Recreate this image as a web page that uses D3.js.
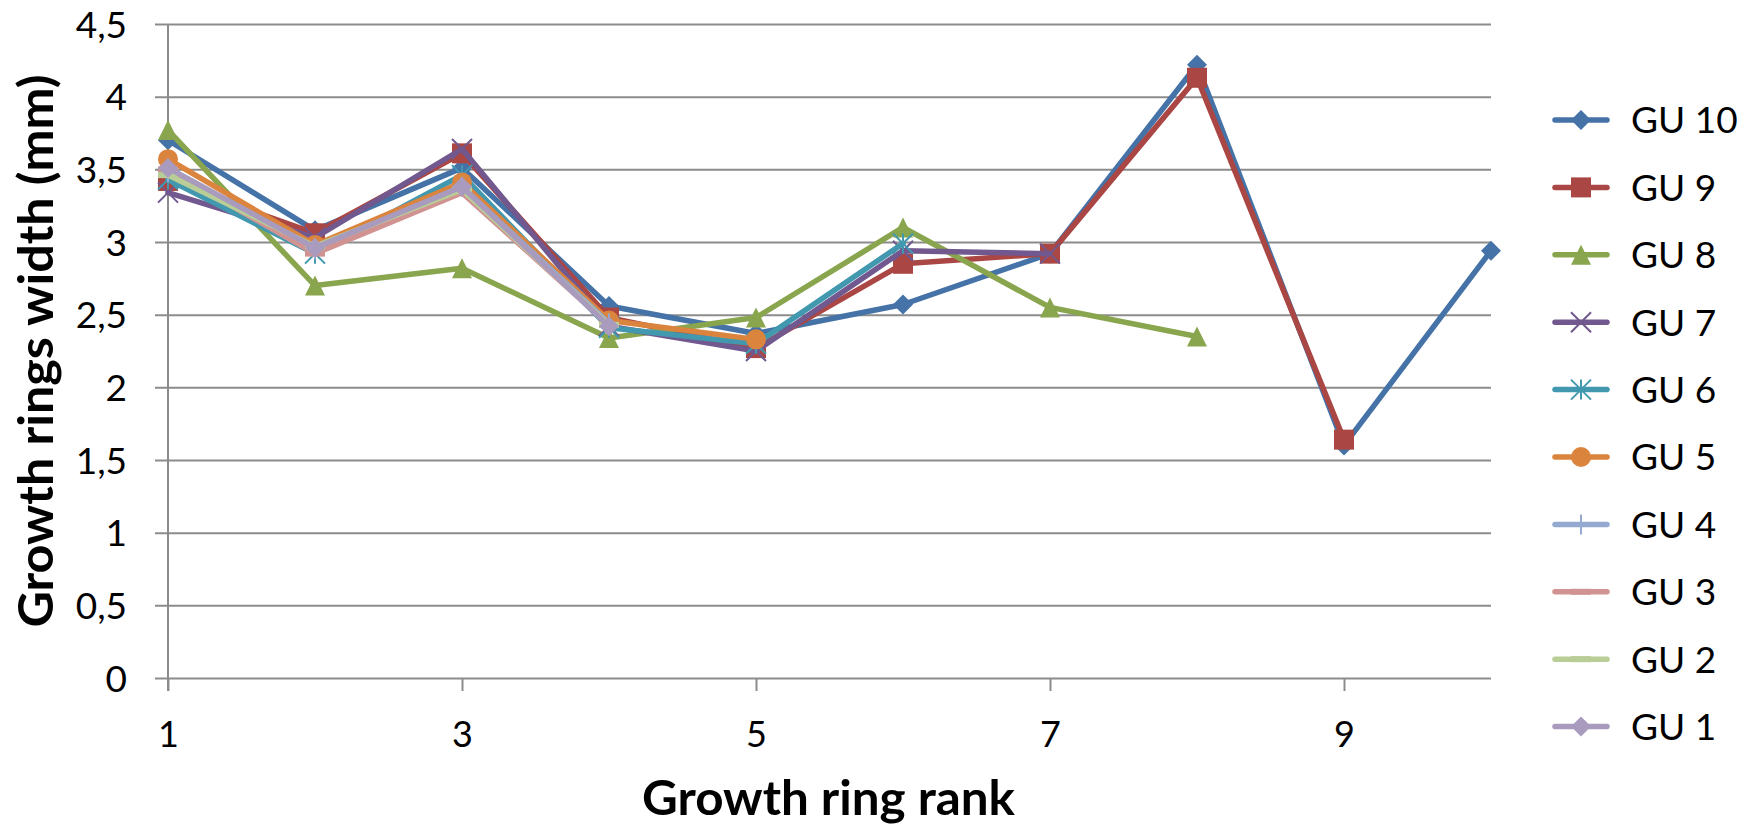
<!DOCTYPE html>
<html>
<head>
<meta charset="utf-8">
<script src="https://cdn.jsdelivr.net/npm/d3@7"></script>
<style>
  body { margin: 0; background: #ffffff; }
  text { font-family: Lato, "Open Sans", "DejaVu Sans", sans-serif; fill: #000; }
</style>
</head>
<body>
<svg id="chart" width="1741" height="826"></svg>
<script>
// Growth ring rank (x categories)
const ranks = [1, 2, 3, 4, 5, 6, 7, 8, 9, 10];

// Series names, listed in legend order
const seriesNames = ["GU 10", "GU 9", "GU 8", "GU 7", "GU 6", "GU 5", "GU 4", "GU 3", "GU 2", "GU 1"];

// Growth ring widths (mm) per growth unit, by ring rank
const gu10 = [3.70, 3.08, 3.51, 2.56, 2.37, 2.57, 2.92, 4.22, 1.60, 2.94];
const gu9  = [3.42, 3.06, 3.61, 2.48, 2.27, 2.85, 2.92, 4.13, 1.64];
const gu8  = [3.77, 2.70, 2.82, 2.34, 2.48, 3.10, 2.55, 2.35];
const gu7  = [3.34, 3.03, 3.64, 2.42, 2.25, 2.94, 2.92];
const gu6  = [3.43, 2.92, 3.46, 2.41, 2.30, 2.99];
const gu5  = [3.57, 2.98, 3.41, 2.46, 2.33];
const gu4  = [3.48, 2.95, 3.38, 2.44];
const gu3  = [3.50, 2.92, 3.34, 2.43];
const gu2  = [3.46, 2.97, 3.36, 2.43];
const gu1  = [3.51, 2.96, 3.38, 2.42];

const seriesValues = [gu10, gu9, gu8, gu7, gu6, gu5, gu4, gu3, gu2, gu1];

// Axis ticks
const yTickValues = [0, 0.5, 1, 1.5, 2, 2.5, 3, 3.5, 4, 4.5];
const yTickLabels = ["0", "0,5", "1", "1,5", "2", "2,5", "3", "3,5", "4", "4,5"];
const xTickValues = [1, 3, 5, 7, 9];

const xTitle = "Growth ring rank";
const yTitle = "Growth rings width (mm)";

// Visual styling per series
const colors  = ["#4572A7", "#AA4643", "#89A54E", "#71588F", "#4198AF", "#DB843D", "#93A9CF", "#D19392", "#B9CD96", "#A99BBD"];
const markers = ["diamond", "square", "triangle", "x", "star", "circle", "plus", "dash", "dash", "diamond"];

const svg = d3.select("#chart");
svg.append("rect").attr("width", 1741).attr("height", 826).attr("fill", "#fff");

const x = d3.scaleLinear().domain([1, 10]).range([168, 1491]);
const y = d3.scaleLinear().domain([0, 4.5]).range([678, 24]);

const gridColor = "#8c8c8c";

// Horizontal gridlines (also act as left tick marks)
const yAxis = d3.axisLeft(y)
  .tickValues(yTickValues)
  .tickSize(-(1491 - 155))
  .tickFormat((d, i) => yTickLabels[i]);

const gy = svg.append("g").attr("transform", "translate(155,0)").call(yAxis);
gy.select(".domain").remove();
gy.selectAll(".tick line").attr("stroke", gridColor).attr("stroke-width", 2);
gy.selectAll(".tick text")
  .attr("x", -28)
  .attr("dy", "0.36em")
  .style("font-size", "37px")
  .style("font-family", "Lato, sans-serif")
  .attr("fill", "#000");

// Vertical axis line
svg.append("line")
  .attr("x1", x(1)).attr("x2", x(1))
  .attr("y1", y(4.5)).attr("y2", y(0) + 13)
  .attr("stroke", gridColor).attr("stroke-width", 2);

// Horizontal axis with downward ticks
const xAxis = d3.axisBottom(x)
  .tickValues(xTickValues)
  .tickSize(13)
  .tickFormat(d3.format("d"));
const gx = svg.append("g").attr("transform", `translate(0,${y(0)})`).call(xAxis);
gx.select(".domain").remove();
gx.selectAll(".tick line").attr("stroke", gridColor).attr("stroke-width", 2);
gx.selectAll(".tick text")
  .attr("y", 69)
  .attr("dy", 0)
  .style("font-size", "36px")
  .style("font-family", "Lato, sans-serif")
  .attr("fill", "#000");

// Axis titles
svg.append("text")
  .attr("x", 828.5).attr("y", 815)
  .attr("text-anchor", "middle")
  .attr("font-weight", "bold")
  .attr("font-size", 48)
  .attr("textLength", 373)
  .attr("lengthAdjust", "spacingAndGlyphs")
  .text(xTitle);

svg.append("text")
  .attr("transform", "translate(53,351) rotate(-90)")
  .attr("text-anchor", "middle")
  .attr("font-weight", "bold")
  .attr("font-size", 48)
  .attr("textLength", 553)
  .attr("lengthAdjust", "spacingAndGlyphs")
  .text(yTitle);

// Marker drawing
function drawMarker(g, type, color) {
  const s = 10;
  switch (type) {
    case "diamond":
      g.append("path").attr("d", `M0,${-s}L${s},0L0,${s}L${-s},0Z`).attr("fill", color);
      break;
    case "square":
      g.append("rect").attr("x", -s).attr("y", -s).attr("width", 2 * s).attr("height", 2 * s).attr("fill", color);
      break;
    case "triangle":
      g.append("path").attr("d", `M0,${-s}L${s},${s}L${-s},${s}Z`).attr("fill", color);
      break;
    case "x":
      g.append("path").attr("d", `M${-s},${-s}L${s},${s}M${-s},${s}L${s},${-s}`)
        .attr("stroke", color).attr("stroke-width", 2).attr("fill", "none");
      break;
    case "star":
      g.append("path").attr("d", `M${-s},${-s}L${s},${s}M${-s},${s}L${s},${-s}M0,${-s}L0,${s}`)
        .attr("stroke", color).attr("stroke-width", 2).attr("fill", "none");
      break;
    case "circle":
      g.append("circle").attr("r", s).attr("fill", color);
      break;
    case "plus":
      g.append("path").attr("d", `M${-s},0L${s},0M0,${-s}L0,${s}`)
        .attr("stroke", color).attr("stroke-width", 2).attr("fill", "none");
      break;
    case "dash":
      g.append("rect").attr("x", -s).attr("y", -3).attr("width", 2 * s).attr("height", 6).attr("fill", color);
      break;
  }
}

const line = d3.line()
  .x(d => x(d.rank))
  .y(d => y(d.value));

// Series: drawn in order so later units sit on top
seriesValues.forEach((vals, i) => {
  const pts = vals.map((v, j) => ({ rank: ranks[j], value: v }));
  const g = svg.append("g").attr("class", "series");
  g.append("path")
    .datum(pts)
    .attr("d", line)
    .attr("fill", "none")
    .attr("stroke", colors[i])
    .attr("stroke-width", 5.5)
    .attr("stroke-linejoin", "round")
    .attr("stroke-linecap", "round");
  pts.forEach(p => {
    const mg = g.append("g").attr("transform", `translate(${x(p.rank)},${y(p.value)})`);
    drawMarker(mg, markers[i], colors[i]);
  });
});

// Legend
const legend = svg.append("g");
seriesNames.forEach((name, i) => {
  const cy = 120 + i * 67.4;
  const lg = legend.append("g");
  lg.append("line")
    .attr("x1", 1555).attr("x2", 1607)
    .attr("y1", cy).attr("y2", cy)
    .attr("stroke", colors[i]).attr("stroke-width", 5.5)
    .attr("stroke-linecap", "round");
  const mg = lg.append("g").attr("transform", `translate(1581,${cy})`);
  drawMarker(mg, markers[i], colors[i]);
  lg.append("text")
    .attr("x", 1631).attr("y", cy).attr("dy", "0.36em")
    .attr("font-size", 37)
    .text(name);
});
</script>
</body>
</html>
